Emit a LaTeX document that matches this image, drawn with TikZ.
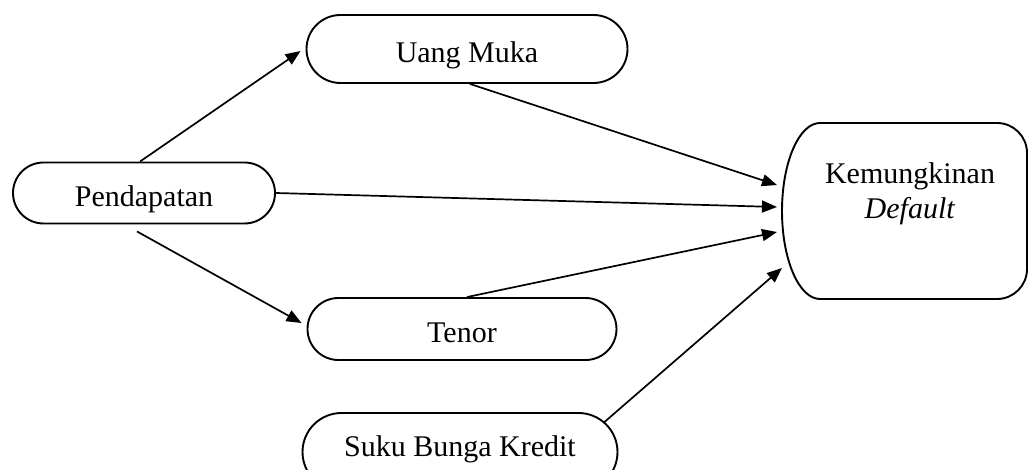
\documentclass[tikz,border=0pt]{standalone}
\usepackage{fontspec}
\setmainfont{Liberation Serif}
\usetikzlibrary{shapes.misc,arrows.meta,calc}
\tikzset{
  stadium/.style={rounded rectangle, draw, line width=1.9pt, inner sep=0pt,
    font=\fontsize{30}{35}\selectfont, text height=27pt, text depth=0pt},
  conn/.style={line width=1.7pt, -{Triangle[length=15pt,width=12pt]}},
  bigbox/.style={draw, line width=1.9pt}
}
\begin{document}
\begin{tikzpicture}[x=1pt,y=1pt]
\useasboundingbox (0,0) rectangle (1028,-470);
\clip (0,0) rectangle (1028,-470);
% nodes
\node[stadium, minimum width=262pt, minimum height=61pt] (P) at (144,-193) {Pendapatan};
\node[stadium, minimum width=321pt, minimum height=68pt] (U) at (467,-49) {Uang Muka};
\node[stadium, minimum width=309pt, minimum height=62pt] (T) at (462,-329) {Tenor};
\node[stadium, minimum width=315pt, minimum height=78pt, text height=21pt, text depth=12pt] (S) at (460,-452) {Suku Bunga Kredit};
% Kemungkinan Default box
\draw[bigbox] (820,-123) -- (997,-123) arc[start angle=90, end angle=0, radius=30pt]
  -- (1027,-269) arc[start angle=0, end angle=-90, radius=30pt]
  -- (820,-299) arc[start angle=270, end angle=90, x radius=38pt, y radius=88pt] -- cycle;
\node[align=center, font=\fontsize{30}{35}\selectfont] (K) at (910,-194) {Kemungkinan\\\textit{Default}};
\coordinate (k1) at (777,-185);
\coordinate (k2) at (777,-207);
\coordinate (k3) at (777,-232);
\coordinate (k4) at (782,-268);
% connectors
\draw[conn] ($(P.north)+(-4,0)$) -- ($(U.west)+(-5,-2)$);
\draw[conn] ($(P.south)+(-7,-7)$) -- ($(T.west)+(-5,6)$);
\draw[conn] ($(U.south)+(3,0)$) -- (k1);
\draw[conn] (P.east) -- (k2);
\draw[conn] ($(T.north)+(5,0)$) -- (k3);
\draw[conn] ($(S.east)+(-14,30)$) -- (k4);
\end{tikzpicture}
\end{document}
